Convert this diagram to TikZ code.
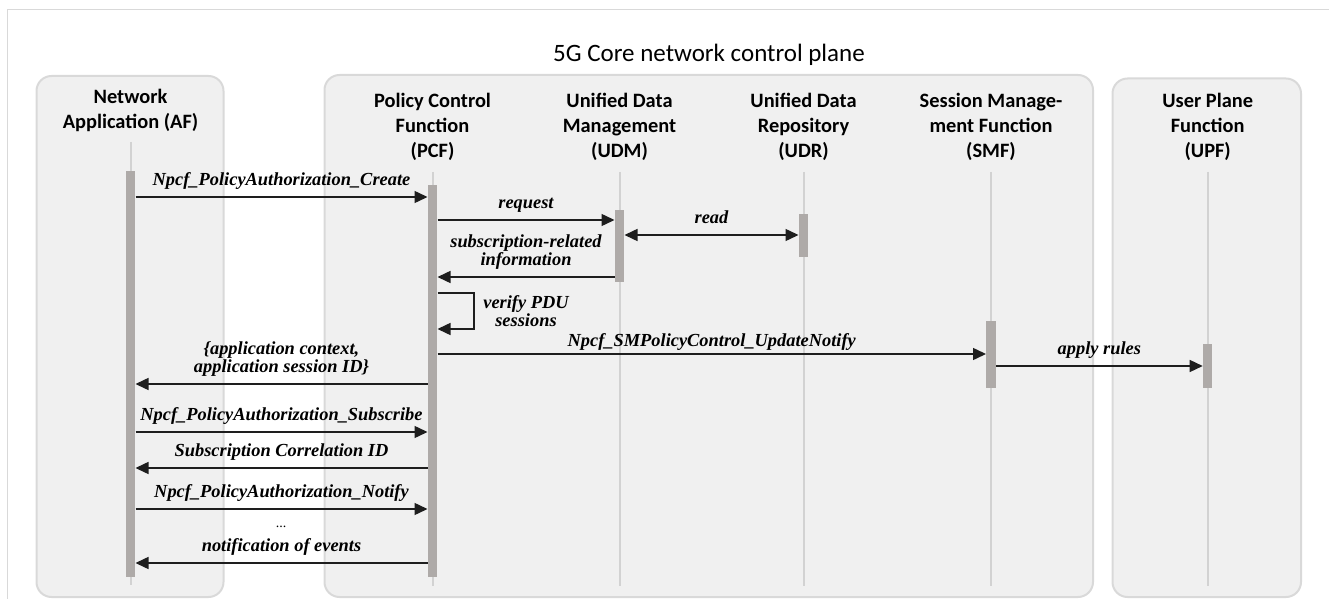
\documentclass[tikz,border=0pt]{standalone}
\usepackage{fontspec}
\newfontfamily\calibri{Carlito}
\newfontfamily\msgfont{Liberation Serif}
\usetikzlibrary{arrows.meta,fit}

\definecolor{boxfill}{HTML}{F0F0F0}
\definecolor{boxline}{HTML}{D9D9D9}
\definecolor{lifegray}{HTML}{D2D2D2}
\definecolor{bargray}{HTML}{AEAAA8}
\definecolor{msgline}{HTML}{1E1E1E}

\tikzset{
  box/.style={draw=boxline,fill=boxfill,line width=1pt,rounded corners=7.5pt},
  head/.style={align=center,inner sep=0pt,
    font=\calibri\bfseries\fontsize{10.2}{12.5}\selectfont},
  lifeline/.style={draw=lifegray,line width=1pt},
  actbar/.style={fill=bargray,inner sep=0pt,minimum width=4.6pt},
  msg/.style={draw=msgline,line width=0.75pt,-{Triangle[length=6.5pt,width=6pt]}},
  note/.style={inner sep=0pt,align=center,
    font=\msgfont\bfseries\itshape\fontsize{9.2}{9}\selectfont},
  lbl/.style={note,anchor=south,yshift=3.5pt,text depth=0.2em}
}

\begin{document}
\begin{tikzpicture}[x=0.5pt,y=-0.5pt]
  \useasboundingbox (0,0) rectangle (1329,599);
  % frame, cut at right and bottom
  \draw[boxline,line width=0.8pt] (1329,9.5) -- (7.5,9.5) -- (7.5,599);

  % swimlanes
  \draw[box] (36.5,76) rectangle (223.5,597);
  \draw[box] (324.5,75) rectangle (1093,597);
  \draw[box] (1112.5,78.5) rectangle (1301,597);
  \node[font=\calibri\fontsize{12.5}{15}\selectfont] (core) at (709,55) {5G Core network control plane};

  % participants
  \node[head] (afhead)  at (130.5,110) {Network\\Application (AF)};
  \node[head] (pcfhead) at (432.5,127) {Policy Control\\Function\\(PCF)};
  \node[head] (udmhead) at (619.5,127) {Unified Data\\Management\\(UDM)};
  \node[head] (udrhead) at (803.5,127) {Unified Data\\Repository\\(UDR)};
  \node[head] (smfhead) at (991,127) {Session Manage-\\ment Function\\(SMF)};
  \node[head] (upfhead) at (1207.7,127) {User Plane\\Function\\(UPF)};

  % lifelines
  \draw[lifeline] (130.5,142) -- (130.5,585);
  \foreach \x in {432.5,619.5,803.5,991,1207.7}
    \draw[lifeline] (\x,172) -- (\x,586);

  % activations
  \node[actbar,fit={(130.5,171) (130.5,577)}] (afbar) {};
  \node[actbar,fit={(432.5,185) (432.5,577)}] (pcfbar) {};
  \node[actbar,fit={(619.5,210) (619.5,282)}] (udmbar) {};
  \node[actbar,fit={(803.5,214) (803.5,257)}] (udrbar) {};
  \node[actbar,fit={(991,321) (991,388)}] (smfbar) {};
  \node[actbar,fit={(1207.7,344) (1207.7,388)}] (upfbar) {};

  % messages
  \draw[msg] (afbar.east |- 0,197) -- (pcfbar.west |- 0,197)
    node[lbl,midway] {Npcf\_PolicyAuthorization\_Create};
  \draw[msg] (pcfbar.east |- 0,220) -- (udmbar.west |- 0,220)
    node[lbl,midway] {request};
  \draw[msg,{Triangle[length=6.5pt,width=6pt]}-{Triangle[length=6.5pt,width=6pt]}]
    (udmbar.east |- 0,235) -- (udrbar.west |- 0,235) node[lbl,midway] {read};
  \draw[msg] (udmbar.west |- 0,277) -- (pcfbar.east |- 0,277)
    node[lbl,midway] {subscription-related\\information};
  \draw[msg] (pcfbar.east |- 0,293) -| (474,329) -- (pcfbar.east |- 0,329);
  \node[note] (verify) at (526,311) {verify PDU\\sessions};
  \draw[msg] (pcfbar.east |- 0,354) -- (smfbar.west |- 0,354)
    node[lbl,midway,yshift=-2pt] {Npcf\_SMPolicyControl\_UpdateNotify};
  \draw[msg] (smfbar.east |- 0,366) -- (upfbar.west |- 0,366)
    node[lbl,midway] {apply rules};
  \draw[msg] (pcfbar.west |- 0,384) -- (afbar.east |- 0,384)
    node[lbl,midway] {\{application context,\\application session ID\}};
  \draw[msg] (afbar.east |- 0,432) -- (pcfbar.west |- 0,432)
    node[lbl,midway] {Npcf\_PolicyAuthorization\_Subscribe};
  \draw[msg] (pcfbar.west |- 0,468) -- (afbar.east |- 0,468)
    node[lbl,midway] {Subscription Correlation ID};
  \draw[msg] (afbar.east |- 0,509) -- (pcfbar.west |- 0,509)
    node[lbl,midway] {Npcf\_PolicyAuthorization\_Notify};
  \node[note,anchor=base,font=\msgfont\fontsize{7}{8}\selectfont] (dots) at (281,527) {...};
  \draw[msg] (pcfbar.west |- 0,563) -- (afbar.east |- 0,563)
    node[lbl,midway] {notification of events};
\end{tikzpicture}
\end{document}
